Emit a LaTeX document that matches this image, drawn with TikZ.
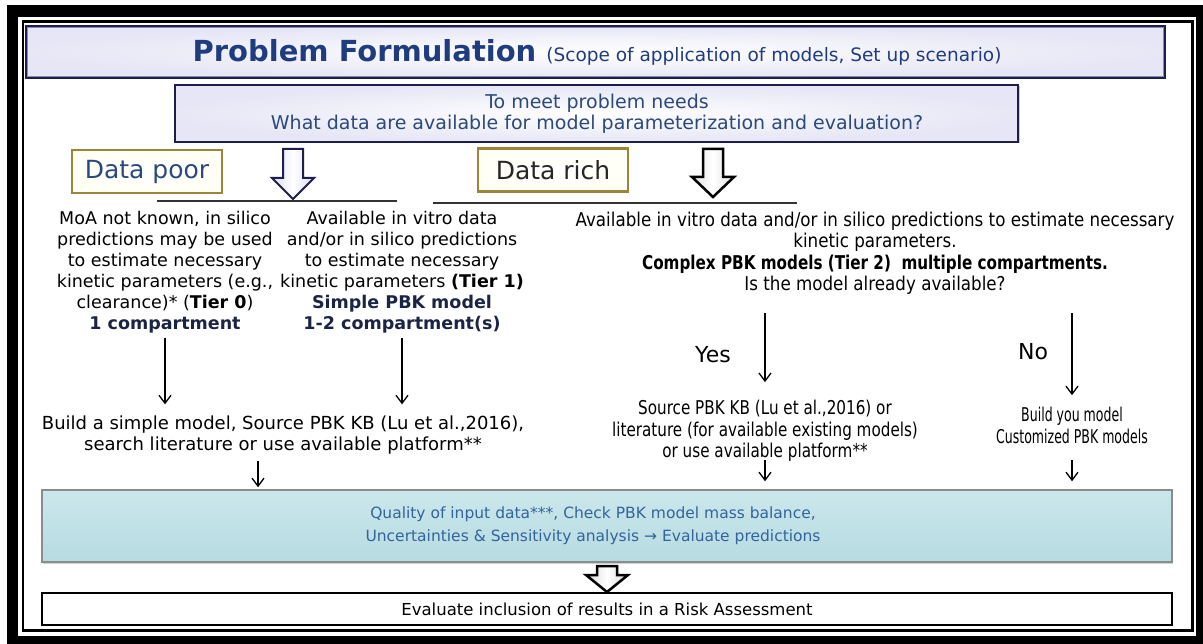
\documentclass[tikz,border=0pt]{standalone}
\usepackage{fontspec}
\setmainfont{DejaVu Sans}
\newfontfamily\branchfont[FakeStretch=0.88]{DejaVu Sans}
\newfontfamily\sourcefont[FakeStretch=0.8]{DejaVu Sans}
\newfontfamily\buildfont[FakeStretch=0.66]{DejaVu Sans}
\usetikzlibrary{arrows.meta,positioning,shadows}

\definecolor{titleblue}{HTML}{1F3C7E}
\definecolor{navyline}{HTML}{1E1E4C}
\definecolor{innerline}{HTML}{8A8AB4}
\definecolor{textblue}{HTML}{2B4A7C}
\definecolor{boldnavy}{HTML}{1C2446}
\definecolor{goldline}{HTML}{9C8536}
\definecolor{lavender}{HTML}{DCDCF2}
\definecolor{tealtop}{HTML}{CBE7EC}
\definecolor{tealfill}{HTML}{B6DBE1}
\definecolor{tealtext}{HTML}{33649A}

% hollow block arrow: #1 total length, #2 shaft length
\tikzset{
  pics/hollow/.style 2 args={code={
    \draw[pic actions] (-10,0) -- (10,0) -- (10,#2) -- (21,#2) -- (0,#1)
      -- (-21,#2) -- (-10,#2) -- cycle;
  }}
}

\begin{document}
\begin{tikzpicture}[
x=1pt, y=-1pt,
navybox/.style={
draw=navyline,
line width=2.5pt,
inner color=white,
outer color=lavender!70,
inner sep=0pt
},
goldbox/.style={
draw=goldline,
line width=2.5pt,
inner color=white,
outer color=yellow!4,
inner sep=0pt,
minimum width=150pt,
minimum height=43pt,
font=\fontsize{25}{28}\selectfont
},
body/.style={
align=center,
inner sep=0pt,
font=\fontsize{18}{21.5}\selectfont
},
column/.style={
align=center,
inner sep=0pt,
font=\fontsize{17.5}{21}\selectfont
},
flow/.style={
-{Straight Barb[length=8pt,width=12pt]},
line width=1.3pt
},
rule/.style={
line width=2pt,
black!80
}
]

% page and double frame
\useasboundingbox (0,0) rectangle (1203,644);
\fill[white] (0,0) rectangle (1203,644);
\fill[black] (7,5) rectangle (1203,644);
\fill[white] (18,17) rectangle (1196,636);
\draw[black, line width=2.5pt] (23,21.5) rectangle (1192.5,630.5);

% heading boxes
\node[navybox, minimum width=1139pt, minimum height=52pt] (title) at (595.5,52) {};
\draw[innerline, line width=1pt] ([shift={(2.5pt,-2.5pt)}]title.north west) rectangle ([shift={(-2.5pt,2.5pt)}]title.south east);
\node[inner sep=0pt, text=titleblue] (titletext) at (597,52)
  {\fontsize{29}{32}\selectfont\bfseries Problem Formulation
   {\fontsize{18.5}{20}\selectfont\mdseries (Scope of application of models, Set up scenario)}};

\node[navybox, minimum width=843pt, minimum height=57pt,
      drop shadow={shadow xshift=1.5pt, shadow yshift=-1.5pt, opacity=.4}] (needs) at (596.5,113.5) {};
\node[body, font=\fontsize{19}{21.5}\selectfont, text=textblue] (needstext) at (597,114)
  {To meet problem needs\\What data are available for model parameterization and evaluation?};

% data poor / data rich
\node[goldbox, text=textblue] (poor) at (147,171.5) {Data poor};
\node[goldbox, text=black!85] (rich) at (553,170) {Data rich};

\pic[draw=navyline, line width=2pt, left color=lavender, right color=lavender, middle color=white] at (293,149) {hollow={50}{29}};
\pic[draw=black, line width=2.5pt, left color=black!12, right color=black!12, middle color=white] at (713,149) {hollow={48}{28}};

\draw[rule] (157,201) -- (397,201);
\draw[rule] (433,203) -- (797,203);

% the three branches
\node[column] (colA) at (165,272)
  {MoA not known, in silico\\predictions may be used\\to estimate necessary\\kinetic parameters (e.g.,\\clearance)* (\textbf{Tier 0})\\\textbf{\textcolor{boldnavy}{1 compartment}}};
\node[column] (colB) at (402,272)
  {Available in vitro data\\and/or in silico predictions\\to estimate necessary\\kinetic parameters \textbf{(Tier 1)}\\\textbf{\textcolor{boldnavy}{Simple PBK model}}\\\textbf{\textcolor{boldnavy}{1-2 compartment(s)}}};
\node[body, font=\branchfont\fontsize{19}{21.5}\selectfont] (colC) at (875,253.5)
  {Available in vitro data and/or in silico predictions to estimate necessary\\kinetic parameters.\\{\sourcefont\bfseries Complex PBK models (Tier 2)\ \ multiple compartments.}\\Is the model already available?};

\node[body] (buildA) at (283,435)
  {Build a simple model, Source PBK KB (Lu et al.,2016),\\search literature or use available platform**};
\node[body, font=\sourcefont\fontsize{19}{21.5}\selectfont] (yesres) at (765,431)
  {Source PBK KB (Lu et al.,2016) or\\literature (for available existing models)\\or use available platform**};
\node[body, font=\buildfont\fontsize{19}{21.5}\selectfont] (nores) at (1072,425.5)
  {Build you model\\Customized PBK models};

\draw[flow] ([yshift=-5pt]colA.south) -- ([yshift=11pt]colA.south |- buildA.north);
\draw[flow] ([yshift=-5pt]colB.south) -- ([yshift=11pt]colB.south |- buildA.north);
\draw[flow] ([yshift=-18pt]yesres.north |- colC.south) -- ([yshift=18pt]yesres.north);
\draw[flow] ([yshift=-18pt]nores.north |- colC.south) -- ([yshift=12pt]nores.north);
\node[font=\fontsize{22}{24}\selectfont] (yes) at (713,355) {Yes};
\node[font=\fontsize{22}{24}\selectfont] (no) at (1033,352) {No};

% checks and final step
\node[draw=black!45, line width=1.5pt, top color=tealtop, bottom color=tealfill,
      minimum width=1130pt, minimum height=72pt,
      drop shadow={shadow xshift=1pt, shadow yshift=-2pt, opacity=.35}] (quality) at (607,526) {};
\node[body, font=\fontsize{15.5}{23}\selectfont, text=tealtext] (qualitytext) at (593,526)
  {Quality of input data***, Check PBK model mass balance,\\Uncertainties \& Sensitivity analysis → Evaluate predictions};

\draw[flow] ([xshift=-25pt,yshift=28pt]buildA.south |- quality.north) -- ([xshift=-25pt,yshift=2pt]buildA.south |- quality.north);
\draw[flow] ([yshift=29pt]yesres.south |- quality.north) -- ([yshift=8pt]yesres.south |- quality.north);
\draw[flow] ([yshift=29pt]nores.south |- quality.north) -- ([yshift=8pt]nores.south |- quality.north);

\node[draw=black, line width=1.5pt, fill=white, minimum width=1130pt, minimum height=32pt,
      font=\fontsize{16.5}{18}\selectfont] (risk) at (607,609)
  {Evaluate inclusion of results in a Risk Assessment};

\pic[draw=black, line width=2.5pt, left color=black!15, right color=black!15, middle color=white] at (607,566) {hollow={26}{9}};

\end{tikzpicture}
\end{document}
